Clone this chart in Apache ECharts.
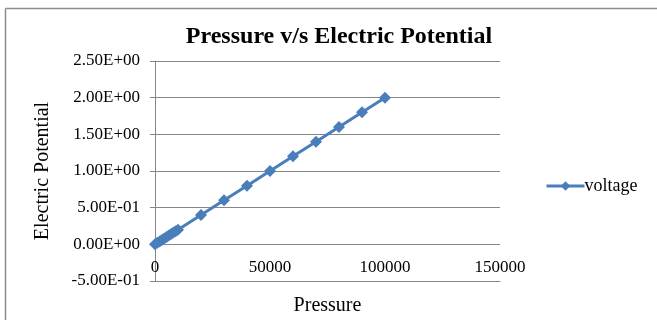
<!DOCTYPE html>
<html><head><meta charset="utf-8">
<script src="https://cdn.jsdelivr.net/npm/echarts@6/dist/echarts.min.js"></script>
<style>html,body{margin:0;padding:0;background:#fff}#c{width:657px;height:320px}</style>
</head><body><div id="c"></div>
<script>
var pressure = [0, 1000, 2000, 3000, 4000, 5000, 6000, 7000, 8000, 9000, 10000, 20000, 30000, 40000, 50000, 60000, 70000, 80000, 90000, 100000];
var voltage = [0, 0.02, 0.04, 0.06, 0.08, 0.1, 0.12, 0.14, 0.16, 0.18, 0.2, 0.4, 0.6, 0.8, 1.0, 1.2, 1.4, 1.6, 1.8, 2.0];
var xTicks = [0, 50000, 100000, 150000];
var yTicks = [-0.5, 0, 0.5, 1.0, 1.5, 2.0, 2.5];

function sci(v) {
  if (v === 0) return '0.00E+00';
  var e = Math.floor(Math.log10(Math.abs(v)) + 1e-9);
  var m = v / Math.pow(10, e);
  var s = Math.abs(e) < 10 ? '0' + Math.abs(e) : '' + Math.abs(e);
  return m.toFixed(2) + 'E' + (e < 0 ? '-' : '+') + s;
}

var chart = echarts.init(document.getElementById('c'));
var serif = '"Liberation Serif", "DejaVu Serif", serif';
chart.setOption({
  animation: false,
  textStyle: {fontFamily: serif},
  title: {
    text: 'Pressure v/s Electric Potential',
    left: 334, top: 20, textAlign: 'center',
    textStyle: {fontFamily: serif, fontSize: 24, fontWeight: 'bold', color: '#000'}
  },
  graphic: [
    {type: 'line', shape: {x1: 5.5, y1: 8.5, x2: 657, y2: 8.5}, style: {stroke: '#8c8c8c', lineWidth: 1.5}},
    {type: 'line', shape: {x1: 5.5, y1: 8.5, x2: 5.5, y2: 320}, style: {stroke: '#8c8c8c', lineWidth: 1.5}}
  ],
  legend: {
    left: 545, top: 177, padding: 0,
    itemWidth: 38, itemHeight: 12, itemGap: 4,
    lineStyle: {width: 3, color: '#4a7ebb'},
    textStyle: {fontFamily: serif, fontSize: 18, color: '#000', padding: [0,0,0,-5]},
    data: ['voltage']
  },
  grid: {left: 155, right: 157, top: 61, bottom: 39, containLabel: false, outerBoundsMode: 'none'},
  xAxis: {
    type: 'value', min: 0, max: 150000, interval: 50000,
    name: 'Pressure', nameLocation: 'middle', nameGap: 15,
    nameTextStyle: {fontFamily: serif, fontSize: 20, color: '#000', verticalAlign: 'top'},
    axisLine: {onZero: false, lineStyle: {color: '#868686', width: 1}},
    axisTick: {show: false},
    axisLabel: {fontFamily: serif, fontSize: 17, color: '#000', margin: -22, formatter: function (v) { return String(v); }},
    splitLine: {show: false}
  },
  yAxis: {
    type: 'value', min: -0.5, max: 2.5, interval: 0.5,
    name: 'Electric Potential', nameLocation: 'middle', nameGap: 102, nameRotate: 90,
    nameTextStyle: {fontFamily: serif, fontSize: 20, color: '#000'},
    axisLine: {show: true, onZero: false, lineStyle: {color: '#868686', width: 1}},
    axisTick: {show: true, length: 5, lineStyle: {color: '#868686'}},
    axisLabel: {fontFamily: serif, fontSize: 17, color: '#000', margin: 15, formatter: function (v) { return sci(v); }},
    splitLine: {show: true, lineStyle: {color: '#868686', width: 1}}
  },
  series: [{
    name: 'voltage', type: 'line',
    data: pressure.map(function (p, i) { return [p, voltage[i]]; }),
    symbol: 'diamond', symbolSize: 12,
    lineStyle: {color: '#4a7ebb', width: 3},
    itemStyle: {color: '#4a7ebb'}
  }]
});
</script></body></html>
